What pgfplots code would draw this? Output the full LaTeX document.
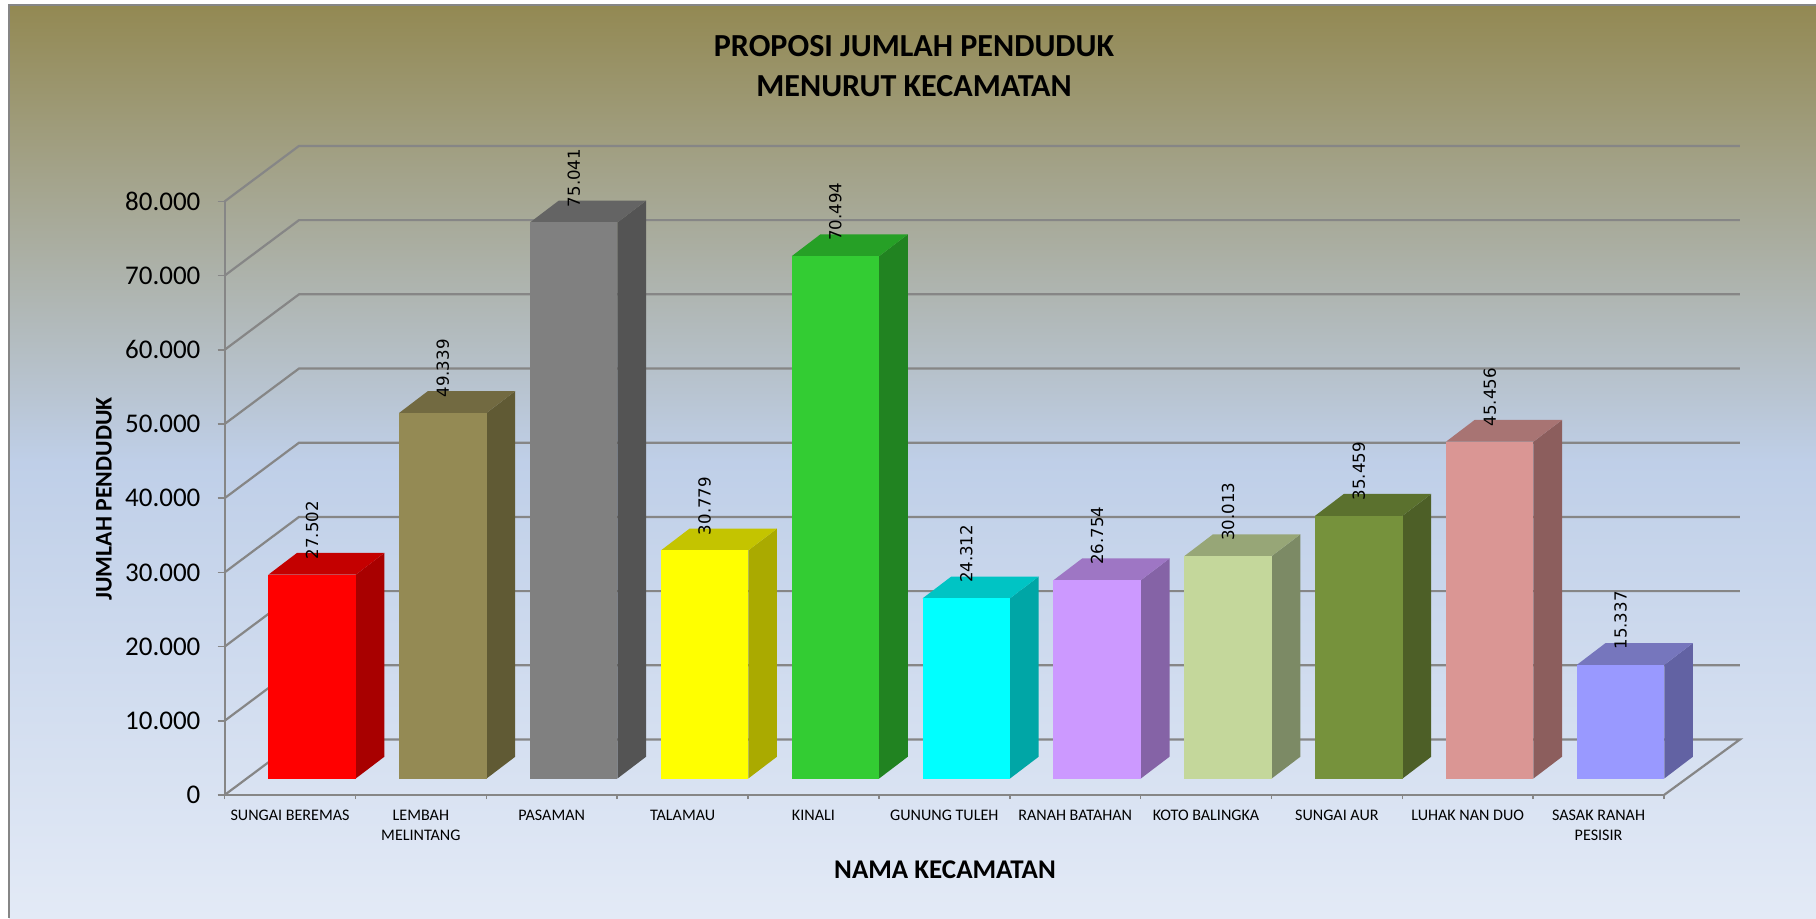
\documentclass[border=0pt]{standalone}
\usepackage{fontspec}
\usepackage{pgfplots}
\pgfplotsset{compat=1.18}
\setmainfont{Carlito}
\newfontfamily\valfont{DejaVu Sans}
\definecolor{gridc}{RGB}{134,134,134}
\definecolor{bgtop}{RGB}{147,137,83}
\definecolor{bgmid}{RGB}{191,207,232}
\definecolor{bgbot}{RGB}{227,234,246}
\pgfplotsset{
  barf/.style={ybar, bar shift=0pt, bar width=0.668, draw=none, nodes near coords,
    every node near coord/.append style={font=\valfont\fontsize{8.3}{10}\selectfont, text=black,
      inner sep=0pt, shift={(0,7.5pt)}, rotate=90, anchor=west}},
  face/.style={draw=none, forget plot},
}
\begin{document}
\begin{tikzpicture}[x=1pt,y=1pt]
\path[use as bounding box] (0,0) rectangle (908,459);
\fill[white] (0,0) rectangle (908,459);
\shade[top color=bgtop, bottom color=bgbot, middle color=bgmid] (4.5,0) rectangle (908,456);
\draw[gridc, line width=1pt] (4.5,0) -- (4.5,456.5) -- (908,456.5);
% frame axis: walls, floor, ticks, labels
\begin{axis}[
  at={(112.3pt,61.5pt)}, anchor=south west, scale only axis,
  width=719.7pt, height=296.8pt,
  xmin=0, xmax=11, ymin=0, ymax=80000, clip=false,
  axis lines=left,
  axis line style={gridc, line width=1.1pt, -},
  tick align=outside, xtick pos=bottom, ytick pos=left,
  major tick length=3.5pt, minor tick length=2pt,
  ytick={0,10000,20000,30000,40000,50000,60000,70000,80000},
  scaled y ticks=false,
  /pgf/number format/1000 sep={.},
  /pgf/number format/assume math mode=true,
  y tick label style={font=\fontsize{13.5}{15}\selectfont, inner sep=0pt, xshift=-8.4pt},
  ytick style={gridc, line width=0.8pt},
  xtick={0.5,1.5,2.5,3.5,4.5,5.5,6.5,7.5,8.5,9.5,10.5},
  xticklabels={SUNGAI BEREMAS,{LEMBAH\\MELINTANG},PASAMAN,TALAMAU,KINALI,GUNUNG TULEH,RANAH BATAHAN,KOTO BALINGKA,SUNGAI AUR,LUHAK NAN DUO,{SASAK RANAH\\PESISIR}},
  x tick label style={font=\fontsize{8.05}{10}\selectfont, align=center, anchor=north, inner sep=0pt, yshift=-3.8pt},
  major x tick style={draw=none},
  minor xtick={0,1,2,3,4,5,6,7,8,9,10,11},
  minor x tick style={gridc, line width=0.8pt},
  title={PROPOSI JUMLAH PENDUDUK\\MENURUT KECAMATAN},
  title style={at={(rel axis cs:0.479,1.208)}, anchor=center, align=center, font=\bfseries\fontsize{16.05}{19.9}\selectfont, inner sep=0pt},
  xlabel={NAMA KECAMATAN},
  xlabel style={at={(rel axis cs:0.5005,-0.126)}, anchor=center, font=\bfseries\fontsize{13.5}{15}\selectfont, inner sep=0pt},
  ylabel={JUMLAH PENDUDUK},
  ylabel style={at={(rel axis cs:-0.0838,0.4987)}, anchor=center, rotate=0, font=\bfseries\fontsize{11.9}{14}\selectfont, inner sep=0pt},
]
\addplot[gridc, line width=1.1pt] coordinates {(0,0)(0.5686,7480)(11.58,7480)(11,0)};
\addplot[gridc, line width=1.1pt] coordinates {(0,10000)(0.5686,17480)(11.58,17480)};
\addplot[gridc, line width=1.1pt] coordinates {(0,20000)(0.5686,27480)(11.58,27480)};
\addplot[gridc, line width=1.1pt] coordinates {(0,30000)(0.5686,37480)(11.58,37480)};
\addplot[gridc, line width=1.1pt] coordinates {(0,40000)(0.5686,47480)(11.58,47480)};
\addplot[gridc, line width=1.1pt] coordinates {(0,50000)(0.5686,57480)(11.58,57480)};
\addplot[gridc, line width=1.1pt] coordinates {(0,60000)(0.5686,67480)(11.58,67480)};
\addplot[gridc, line width=1.1pt] coordinates {(0,70000)(0.5686,77480)(11.58,77480)};
\addplot[gridc, line width=1.1pt] coordinates {(0,80000)(0.5686,87480)(11.58,87480)};
\end{axis}
% bars: front faces stand on their own plane, with the true values
\begin{axis}[
  at={(123.3pt,69.75pt)}, anchor=south west, scale only axis,
  width=719.7pt, height=296.4pt,
  xmin=0, xmax=11, ymin=0, ymax=80000, clip=false, hide axis,
  /pgf/number format/1000 sep={.},
  /pgf/number format/assume math mode=true,
]
% 1
\addplot[face, fill={rgb,255:red,168;green,0;blue,0}] coordinates {(0.834,0)(1.053,2940)(1.053,30442)(0.834,27502)};
\addplot[face, fill={rgb,255:red,196;green,0;blue,0}] coordinates {(0.166,27502)(0.834,27502)(1.053,30442)(0.385,30442)};
\addplot[barf, fill={rgb,255:red,255;green,0;blue,0}] coordinates {(0.5,27502)};
% 2
\addplot[face, fill={rgb,255:red,96;green,90;blue,52}] coordinates {(1.834,0)(2.053,2940)(2.053,52279)(1.834,49339)};
\addplot[face, fill={rgb,255:red,114;green,106;blue,65}] coordinates {(1.166,49339)(1.834,49339)(2.053,52279)(1.385,52279)};
\addplot[barf, fill={rgb,255:red,148;green,138;blue,84}] coordinates {(1.5,49339)};
% 3
\addplot[face, fill={rgb,255:red,84;green,84;blue,84}] coordinates {(2.834,0)(3.053,2940)(3.053,77981)(2.834,75041)};
\addplot[face, fill={rgb,255:red,100;green,100;blue,100}] coordinates {(2.166,75041)(2.834,75041)(3.053,77981)(2.385,77981)};
\addplot[barf, fill={rgb,255:red,128;green,128;blue,128}] coordinates {(2.5,75041)};
% 4
\addplot[face, fill={rgb,255:red,170;green,170;blue,0}] coordinates {(3.834,0)(4.053,2940)(4.053,33719)(3.834,30779)};
\addplot[face, fill={rgb,255:red,196;green,196;blue,0}] coordinates {(3.166,30779)(3.834,30779)(4.053,33719)(3.385,33719)};
\addplot[barf, fill={rgb,255:red,255;green,255;blue,0}] coordinates {(3.5,30779)};
% 5
\addplot[face, fill={rgb,255:red,33;green,131;blue,33}] coordinates {(4.834,0)(5.053,2940)(5.053,73434)(4.834,70494)};
\addplot[face, fill={rgb,255:red,38;green,160;blue,38}] coordinates {(4.166,70494)(4.834,70494)(5.053,73434)(4.385,73434)};
\addplot[barf, fill={rgb,255:red,51;green,204;blue,51}] coordinates {(4.5,70494)};
% 6
\addplot[face, fill={rgb,255:red,0;green,166;blue,166}] coordinates {(5.834,0)(6.053,2940)(6.053,27252)(5.834,24312)};
\addplot[face, fill={rgb,255:red,0;green,196;blue,196}] coordinates {(5.166,24312)(5.834,24312)(6.053,27252)(5.385,27252)};
\addplot[barf, fill={rgb,255:red,0;green,255;blue,255}] coordinates {(5.5,24312)};
% 7
\addplot[face, fill={rgb,255:red,133;green,99;blue,166}] coordinates {(6.834,0)(7.053,2940)(7.053,29694)(6.834,26754)};
\addplot[face, fill={rgb,255:red,158;green,118;blue,196}] coordinates {(6.166,26754)(6.834,26754)(7.053,29694)(6.385,29694)};
\addplot[barf, fill={rgb,255:red,204;green,153;blue,255}] coordinates {(6.5,26754)};
% 8
\addplot[face, fill={rgb,255:red,124;green,138;blue,101}] coordinates {(7.834,0)(8.053,2940)(8.053,32953)(7.834,30013)};
\addplot[face, fill={rgb,255:red,151;green,166;blue,119}] coordinates {(7.166,30013)(7.834,30013)(8.053,32953)(7.385,32953)};
\addplot[barf, fill={rgb,255:red,196;green,215;blue,155}] coordinates {(7.5,30013)};
% 9
\addplot[face, fill={rgb,255:red,77;green,95;blue,39}] coordinates {(8.834,0)(9.053,2940)(9.053,38399)(8.834,35459)};
\addplot[face, fill={rgb,255:red,91;green,113;blue,46}] coordinates {(8.166,35459)(8.834,35459)(9.053,38399)(8.385,38399)};
\addplot[barf, fill={rgb,255:red,118;green,146;blue,60}] coordinates {(8.5,35459)};
% 10
\addplot[face, fill={rgb,255:red,140;green,94;blue,93}] coordinates {(9.834,0)(10.053,2940)(10.053,48396)(9.834,45456)};
\addplot[face, fill={rgb,255:red,168;green,116;blue,115}] coordinates {(9.166,45456)(9.834,45456)(10.053,48396)(9.385,48396)};
\addplot[barf, fill={rgb,255:red,218;green,150;blue,148}] coordinates {(9.5,45456)};
% 11
\addplot[face, fill={rgb,255:red,98;green,98;blue,163}] coordinates {(10.834,0)(11.053,2940)(11.053,18277)(10.834,15337)};
\addplot[face, fill={rgb,255:red,118;green,118;blue,189}] coordinates {(10.166,15337)(10.834,15337)(11.053,18277)(10.385,18277)};
\addplot[barf, fill={rgb,255:red,153;green,153;blue,255}] coordinates {(10.5,15337)};
\end{axis}
\end{tikzpicture}
\end{document}
